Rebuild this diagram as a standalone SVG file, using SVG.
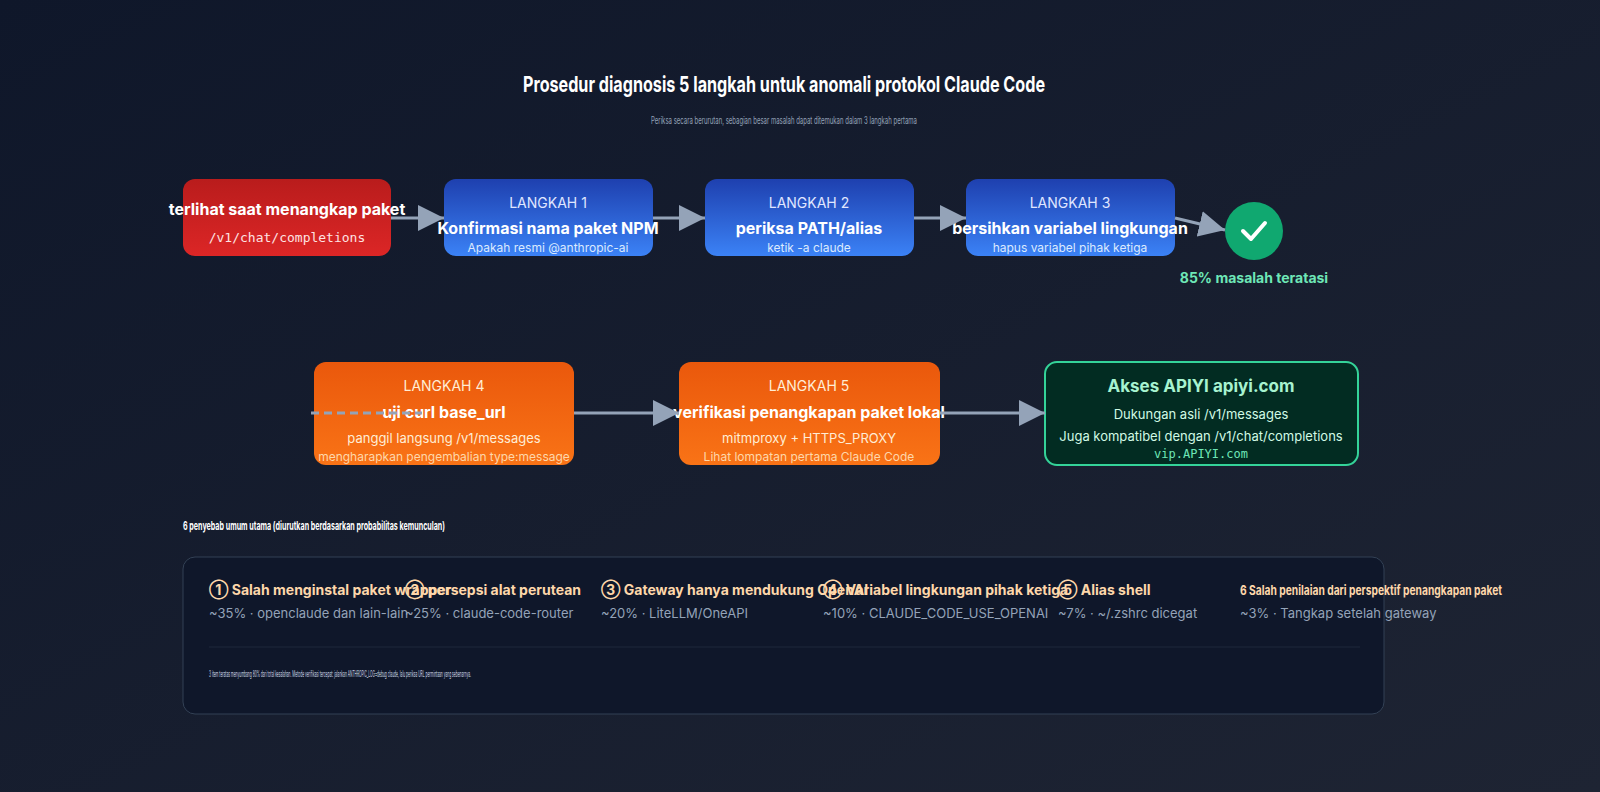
<svg xmlns="http://www.w3.org/2000/svg" width="1600" height="792" viewBox="0 0 1600 792">
<defs>
<linearGradient id="bg" x1="0" y1="0" x2="1" y2="1"><stop offset="0" stop-color="#0f172a"/><stop offset="1" stop-color="#1e2433"/></linearGradient>
<linearGradient id="red" x1="0" y1="0" x2="0" y2="1"><stop offset="0" stop-color="#b91c1c"/><stop offset="1" stop-color="#dc2626"/></linearGradient>
<linearGradient id="blue" x1="0" y1="0" x2="0" y2="1"><stop offset="0" stop-color="#1e40af"/><stop offset="1" stop-color="#3b82f6"/></linearGradient>
<linearGradient id="orange" x1="0" y1="0" x2="0" y2="1"><stop offset="0" stop-color="#ea580c"/><stop offset="1" stop-color="#f97316"/></linearGradient>
<marker id="big" viewBox="0 0 10 10" refX="10" refY="5" markerWidth="26" markerHeight="26" orient="auto" markerUnits="userSpaceOnUse"><path d="M0,0 L10,5 L0,10 z" fill="#94a3b8"/></marker>
</defs>
<style>
text{font-family:Inter,"Noto Sans","Liberation Sans",sans-serif}
.c{text-anchor:middle}
.lbl{font-size:14px;fill:#e0e7ff}
.hd{font-size:16px;font-weight:700;fill:#fff}
.sm{font-size:12px;fill:#dbeafe}
.mono{font-family:"DejaVu Sans Mono","Liberation Mono",monospace}
.ih{font-size:14px;font-weight:700;fill:#fed7aa}
.is{font-size:13px;fill:#94a3b8}
.ln{stroke:#94a3b8;stroke-width:3;fill:none}
</style>
<rect width="1600" height="792" fill="url(#bg)"/>
<text class="c" x="784" y="92" font-size="22" font-weight="700" fill="#fff" textLength="522" lengthAdjust="spacingAndGlyphs">Prosedur diagnosis 5 langkah untuk anomali protokol Claude Code</text>
<text class="c" x="784" y="124" font-size="10" fill="#94a3b8" textLength="266" lengthAdjust="spacingAndGlyphs">Periksa secara berurutan, sebagian besar masalah dapat ditemukan dalam 3 langkah pertama</text>

<g id="start">
<rect x="183" y="179" width="208" height="77" rx="12" fill="url(#red)"/>
<text class="c hd" x="287" y="215">terlihat saat menangkap paket</text>
<text class="c mono" x="287" y="242" font-size="13" fill="#fee2e2">/v1/chat/completions</text>
</g>
<g id="step1">
<rect x="444" y="179" width="209" height="77" rx="12" fill="url(#blue)"/>
<text class="c lbl" x="548" y="208">LANGKAH 1</text>
<text class="c hd" x="548" y="234">Konfirmasi nama paket NPM</text>
<text class="c sm" x="548" y="252">Apakah resmi @anthropic-ai</text>
</g>
<g id="step2">
<rect x="705" y="179" width="209" height="77" rx="12" fill="url(#blue)"/>
<text class="c lbl" x="809" y="208">LANGKAH 2</text>
<text class="c hd" x="809" y="234">periksa PATH/alias</text>
<text class="c sm" x="809" y="252">ketik -a claude</text>
</g>
<g id="step3">
<rect x="966" y="179" width="209" height="77" rx="12" fill="url(#blue)"/>
<text class="c lbl" x="1070" y="208">LANGKAH 3</text>
<text class="c hd" x="1070" y="234">bersihkan variabel lingkungan</text>
<text class="c sm" x="1070" y="252">hapus variabel pihak ketiga</text>
</g>
<g id="done">
<circle cx="1254" cy="231" r="29" fill="#10a870"/>
<path d="M1243,231 L1251,239 L1265,223" fill="none" stroke="#fff" stroke-width="4" stroke-linecap="round" stroke-linejoin="round"/>
<text class="c" x="1254" y="283" font-size="14" font-weight="700" fill="#6ee7b7">85% masalah teratasi</text>
</g>
<g id="step4">
<rect x="314" y="362" width="260" height="103" rx="12" fill="url(#orange)"/>
<text class="c lbl" x="444" y="391" style="fill:#ffedd5">LANGKAH 4</text>
<text class="c hd" x="444" y="418" font-size="17">uji curl base_url</text>
<text class="c" x="444" y="443" font-size="13" fill="#ffedd5">panggil langsung /v1/messages</text>
<text class="c" x="444" y="461" font-size="12" fill="#fed7aa">mengharapkan pengembalian type:message</text>
</g>
<g id="step5">
<rect x="679" y="362" width="261" height="103" rx="12" fill="url(#orange)"/>
<text class="c lbl" x="809" y="391" style="fill:#ffedd5">LANGKAH 5</text>
<text class="c hd" x="809" y="418" font-size="17">verifikasi penangkapan paket lokal</text>
<text class="c" x="809" y="443" font-size="13" fill="#ffedd5">mitmproxy + HTTPS_PROXY</text>
<text class="c" x="809" y="461" font-size="12" fill="#fed7aa">Lihat lompatan pertama Claude Code</text>
</g>
<g id="final">
<rect x="1045" y="362" width="313" height="103" rx="12" fill="#022c22" stroke="#34d399" stroke-width="2"/>
<text class="c" x="1201" y="392" font-size="17" font-weight="700" fill="#a7f3d0">Akses APIYI apiyi.com</text>
<text class="c" x="1201" y="419" font-size="13" fill="#d1fae5">Dukungan asli /v1/messages</text>
<text class="c" x="1201" y="441" font-size="13" fill="#d1fae5">Juga kompatibel dengan /v1/chat/completions</text>
<text class="c mono" x="1201" y="458" font-size="12" fill="#6ee7b7">vip.APIYI.com</text>
</g>
<g id="causes">
<text x="183" y="530" font-size="12" font-weight="700" fill="#fff" textLength="262" lengthAdjust="spacingAndGlyphs">6 penyebab umum utama (diurutkan berdasarkan probabilitas kemunculan)</text>
<rect x="183" y="557" width="1201" height="157" rx="12" fill="#0f172a" stroke="#334155"/>
<text class="ih" x="209" y="595">① Salah menginstal paket wrapper</text>
<text class="is" x="209" y="618">~35% · openclaude dan lain-lain</text>
<text class="ih" x="405" y="595">② persepsi alat perutean</text>
<text class="is" x="405" y="618">~25% · claude-code-router</text>
<text class="ih" x="601" y="595">③ Gateway hanya mendukung OpenAI</text>
<text class="is" x="601" y="618">~20% · LiteLLM/OneAPI</text>
<text class="ih" x="823" y="595">④ Variabel lingkungan pihak ketiga</text>
<text class="is" x="823" y="618">~10% · CLAUDE_CODE_USE_OPENAI</text>
<text class="ih" x="1058" y="595">⑤ Alias shell</text>
<text class="is" x="1058" y="618">~7% · ~/.zshrc dicegat</text>
<text x="1240" y="595" font-size="13" font-weight="700" fill="#fed7aa" textLength="262" lengthAdjust="spacingAndGlyphs">6 Salah penilaian dari perspektif penangkapan paket</text>
<text class="is" x="1240" y="618">~3% · Tangkap setelah gateway</text>
<line x1="209" y1="647" x2="1360" y2="647" stroke="#1e293b" stroke-width="1"/>
<text x="209" y="677" font-size="9" fill="#cbd5e1" textLength="262" lengthAdjust="spacingAndGlyphs">3 item teratas menyumbang 80% dari total kesalahan. Metode verifikasi tercepat: jalankan ANTHROPIC_LOG=debug claude, lalu periksa URL permintaan yang sebenarnya.</text>
</g>

<g id="connectors">
<line class="ln" x1="391" y1="218" x2="444" y2="218" marker-end="url(#big)"/>
<line class="ln" x1="653" y1="218" x2="705" y2="218" marker-end="url(#big)"/>
<line class="ln" x1="914" y1="218" x2="966" y2="218" marker-end="url(#big)"/>
<line class="ln" x1="1175" y1="218" x2="1225" y2="230" marker-end="url(#big)"/>
<line x1="311" y1="413" x2="422" y2="413" stroke="#94a3b8" stroke-width="3" stroke-dasharray="8,5"/>
<line class="ln" x1="574" y1="413" x2="679" y2="413" marker-end="url(#big)"/>
<line class="ln" x1="940" y1="413" x2="1045" y2="413" marker-end="url(#big)"/>
</g>
</svg>
